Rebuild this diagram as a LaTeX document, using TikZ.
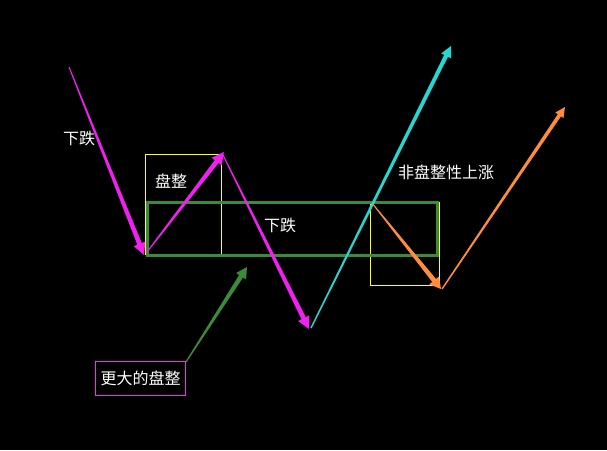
\documentclass[tikz,border=0pt]{standalone}
\usepackage{fontspec}
\newfontfamily\cjk{Noto Sans CJK SC}
\usetikzlibrary{calc}
\definecolor{arrmag}{HTML}{F020F0}
\definecolor{arrcy}{HTML}{22D8D0}
\definecolor{arrorg}{HTML}{FF8C3C}
\definecolor{arrgrn}{HTML}{3A8C3A}
\definecolor{boxylw}{HTML}{FFFF20}
\definecolor{boxmag}{HTML}{F030F0}
\newcommand\tarrow[6]{% color, from, to, w0, w1, head length
  \coordinate (tc) at ($(#3)!#6!(#2)$);
  \fill[#1] ($(#2)!#4!90:(#3)$) -- ($(tc)!#5!90:(#3)$) -- ($(tc)!{2.6*#5}!90:(#3)$) -- (#3)
    -- ($(tc)!{2.6*#5}!-90:(#3)$) -- ($(tc)!#5!-90:(#3)$) -- ($(#2)!#4!-90:(#3)$) -- cycle;
}
\tikzset{lbl/.style={text=white,font=\cjk\fontsize{16}{18}\selectfont,inner sep=1pt},
  framed/.style={minimum width=90pt,minimum height=34pt},
  frameline/.style={draw=boxmag,line width=1.1pt},
  ybox/.style={draw=boxylw,line width=1.1pt}}
\begin{document}
\begin{tikzpicture}[x=1pt,y=-1pt]
\fill[black] (0,0) rectangle (607,450);
\useasboundingbox (0,0) rectangle (607,450);
% boxes
\draw[ybox] (145.5,154.5) rectangle (221.5,254.5);
\draw[ybox] (370.5,202.5) rectangle (439.5,285.5);
\draw[arrgrn,line width=3pt] (147.5,202.5) rectangle (437.5,255.5);
% coordinates
\coordinate (m1a) at (69,67);   \coordinate (m1b) at (144,255);
\coordinate (m2a) at (147,252); \coordinate (m2b) at (224,152);
\coordinate (m3a) at (223,155); \coordinate (m3b) at (309,329);
\coordinate (ca) at (311,328);  \coordinate (cb) at (451,46);
\coordinate (o1a) at (372,203); \coordinate (o1b) at (441,289);
\coordinate (o2a) at (442,289); \coordinate (o2b) at (565,107);
\coordinate (ga) at (186,362);  \coordinate (gb) at (247,267);
% arrows
\tarrow{arrmag}{m1a}{m1b}{0.5pt}{2.4pt}{12pt}
\tarrow{arrmag}{m2a}{m2b}{0.5pt}{2.4pt}{12pt}
\tarrow{arrmag}{m3a}{m3b}{0.5pt}{2.4pt}{12pt}
\tarrow{arrcy}{ca}{cb}{0.7pt}{2.1pt}{11pt}
\tarrow{arrorg}{o1a}{o1b}{0.5pt}{2.4pt}{11pt}
\tarrow{arrorg}{o2a}{o2b}{0.7pt}{1.9pt}{10pt}
\tarrow{arrgrn}{ga}{gb}{0.6pt}{2.3pt}{11pt}
% labels
\node[lbl] (t1) at (79,138) {下跌};
\node[lbl] (t2) at (171,181) {盘整};
\node[lbl] (t3) at (280,225) {下跌};
\node[lbl] (t4) at (446,172) {非盘整性上涨};
\node[lbl,framed] (t5) at (140.5,378.5) {更大的盘整};
\draw[frameline] (t5.north west) rectangle (t5.south east);
\end{tikzpicture}
\end{document}
